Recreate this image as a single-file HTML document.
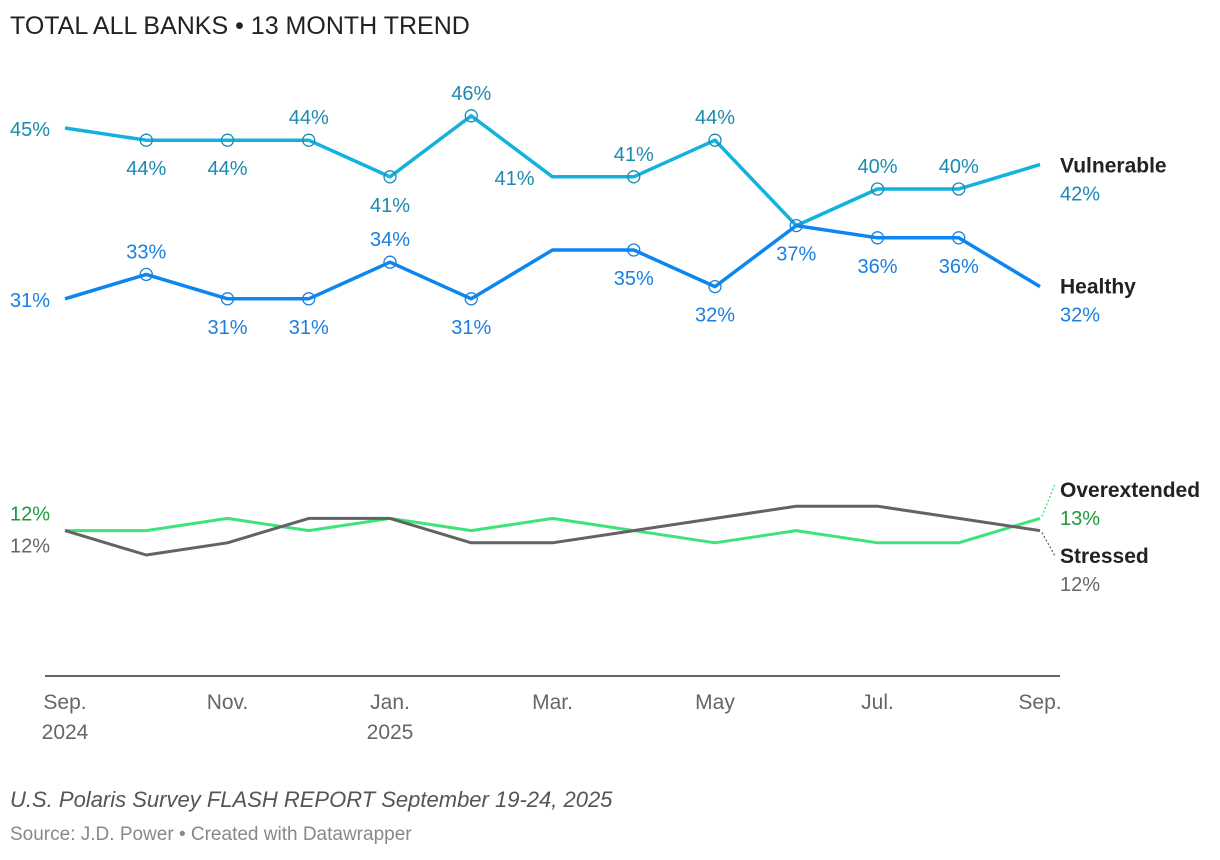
<!DOCTYPE html>
<html><head><meta charset="utf-8">
<style>
body{margin:0;background:#fff;font-family:"Liberation Sans",Roboto,sans-serif;}
#wrap{position:relative;width:1220px;height:860px;overflow:hidden;}
.t{position:absolute;white-space:nowrap;}
</style></head><body>
<div id="wrap">
<div class="t" style="left:10px;top:12px;font-size:25px;color:#222;">TOTAL ALL BANKS • 13 MONTH TREND</div>
<svg id="chart" width="1220" height="860" style="position:absolute;left:0;top:0"></svg>
<div class="t" style="left:10px;top:787px;font-size:22px;font-style:italic;color:#555;">U.S. Polaris Survey FLASH REPORT September 19-24, 2025</div>
<div class="t" style="left:10px;top:824px;font-size:19px;color:#888;">Source: J.D. Power • Created with Datawrapper</div>
</div>
<script>
const months=["Sep.","Oct.","Nov.","Dec.","Jan.","Feb.","Mar.","Apr.","May","Jun.","Jul.","Aug.","Sep."];
const xTickIdx=[0,2,4,6,8,10,12];
const xTickYears={0:"2024",4:"2025"};
const vulnerable=[45,44,44,44,41,46,41,41,44,37,40,40,42];
const healthy=[31,33,31,31,34,31,35,35,32,37,36,36,32];
const overextended=[12,12,13,12,13,12,13,12,11,12,11,11,13];
const stressed=[12,10,11,13,13,11,11,12,13,14,14,13,12];
const vulnLabelPos=["","below","below","above","below","above","left","above","above","","above","above",""];
const healthLabelPos=["","above","below","below","above","below","","below","below","below","below","below",""];
const vulnMarkers=[1,2,3,4,5,7,8,10,11];
const healthMarkers=[1,2,3,4,5,7,8,9,10,11];

const svg=document.getElementById('chart');
const NS="http://www.w3.org/2000/svg";
const X=i=>65+i*(1040-65)/12;
const Y=v=>128+(45-v)*12.2;
function mk(tag,attrs){const e=document.createElementNS(NS,tag);for(const k in attrs)e.setAttribute(k,attrs[k]);svg.appendChild(e);return e;}
function txt(x,y,s,fill,anchor,size,weight){const e=mk('text',{x:x,y:y,fill:fill,'text-anchor':anchor,'font-size':size||20,'font-weight':weight||'normal','font-family':'"Liberation Sans",sans-serif'});e.textContent=s;return e;}

// axis
const ax=mk('line',{x1:45,x2:1060,y1:676,y2:676,stroke:'#333','stroke-width':1.5});


xTickIdx.forEach(i=>{
  const t=txt(X(i),709,months[i],'#666','middle',21);
  
  
  if(xTickYears[i]){const y=txt(X(i),739,xTickYears[i],'#666','middle',21);
    
    }
});

function line(data,color,w,name){
  const p=mk('polyline',{points:data.map((v,i)=>X(i)+','+Y(v)).join(' '),fill:'none',stroke:color,'stroke-width':w,'stroke-linejoin':'round'});
  
  
}
line(overextended,'#3ee37a',3,'line-overextended');
line(stressed,'#636363',3,'line-stressed');
line(vulnerable,'#13b2de',3.5,'line-vulnerable');
line(healthy,'#0c86f0',3.5,'line-healthy');

function markers(data,idx,color,name){
  idx.forEach(i=>{const c=mk('circle',{cx:X(i),cy:Y(data[i]),r:6,fill:'none',stroke:color,'stroke-width':1.3});
    
    });
}
markers(vulnerable,vulnMarkers,'#1a8ab0','marker-vulnerable');
markers(healthy,healthMarkers,'#1a7fe0','marker-healthy');

function labels(data,pos,color,name){
  data.forEach((v,i)=>{const p=pos[i];if(!p)return;
    let x=X(i),y=Y(v),a='middle';
    if(p==='above')y-=16;else if(p==='below')y+=35;else{x-=18;y+=8;a='end';}
    const t=txt(x,y,v+'%',color,a,20);
    
    });
}
labels(vulnerable,vulnLabelPos,'#1a8ab0','value-label-vulnerable');
labels(healthy,healthLabelPos,'#1a7fe0','value-label-healthy');

// start labels
[[vulnerable[0],'#1a8ab0',Y(vulnerable[0])+8],[healthy[0],'#1a7fe0',Y(healthy[0])+8],[overextended[0],'#1a9a3a',Y(overextended[0])-10],[stressed[0],'#666',Y(stressed[0])+22]].forEach(d=>{
  const t=txt(10,d[2],d[0]+'%',d[1],'start',20);
  
  
});

// end labels
const L=12;
function endLabel(name,val,color,ly,nm){
  const a=txt(1060,ly,name,'#222','start',21,'bold');
  
  
  const b=txt(1060,ly+28,val+'%',color,'start',20);
  
  
}
endLabel('Vulnerable',vulnerable[L],'#1a8ab0',Y(vulnerable[L])+8,'vulnerable');
endLabel('Healthy',healthy[L],'#1a7fe0',Y(healthy[L])+7,'healthy');
endLabel('Overextended',overextended[L],'#1a9a3a',497,'overextended');
endLabel('Stressed',stressed[L],'#666',563,'stressed');
const d1=mk('line',{x1:X(L)+2,y1:Y(overextended[L])-2,x2:1055,y2:484,stroke:'#3ee37a','stroke-width':1.3,'stroke-dasharray':'2,2'});


const d2=mk('line',{x1:X(L)+2,y1:Y(stressed[L])+2,x2:1055,y2:556,stroke:'#636363','stroke-width':1.3,'stroke-dasharray':'2,2'});


</script>
</body></html>
